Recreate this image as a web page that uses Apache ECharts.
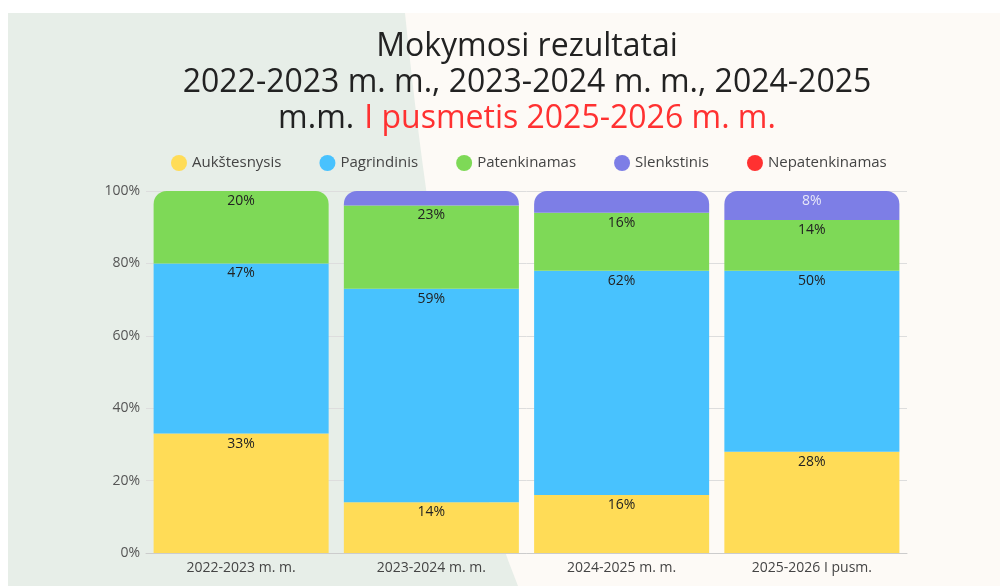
<!DOCTYPE html>
<html>
<head>
<meta charset="utf-8">
<script src="https://cdn.jsdelivr.net/npm/echarts@6/dist/echarts.min.js"></script>
<style>
html, body { margin: 0; padding: 0; background: #fff; }
#chart { width: 1000px; height: 586px; }
</style>
</head>
<body>
<div id="chart"></div>
<script>
var categories = ['2022-2023 m. m.', '2023-2024 m. m.', '2024-2025 m. m.', '2025-2026 I pusm.'];
var seriesNames = ['Aukštesnysis', 'Pagrindinis', 'Patenkinamas', 'Slenkstinis', 'Nepatenkinamas'];
var aukstesnysis = [33, 14, 16, 28];
var pagrindinis = [47, 59, 62, 50];
var patenkinamas = [20, 23, 16, 14];
var slenkstinis = [0, 4, 6, 8];
var nepatenkinamas = [0, 0, 0, 0];
var colors = ['#ffdc57', '#48c2fe', '#7ed957', '#7d7ee6', '#ff3131'];

var myChart = echarts.init(document.getElementById('chart'));
var allData = [aukstesnysis, pagrindinis, patenkinamas, slenkstinis, nepatenkinamas];

// which series is on top of each bar (for the rounded corners)
var topIdx = categories.map(function (c, j) {
    var t = 0;
    allData.forEach(function (d, i) { if (d[j] > 0) t = i; });
    return t;
});

var font = '"Open Sans", Lato, sans-serif';

// curved edge of the green background shape
var bgPoints = [[8, 13]];
for (var k = 0; k <= 20; k++) {
    var t = k / 20, u = 1 - t;
    bgPoints.push([
        u * u * u * 405 + 3 * u * u * t * 418 + 3 * u * t * t * 450 + t * t * t * 518,
        u * u * u * 13 + 3 * u * u * t * 140 + 3 * u * t * t * 420 + t * t * t * 586
    ]);
}
bgPoints.push([8, 586]);

var series = allData.map(function (d, i) {
    return {
        name: seriesNames[i],
        type: 'bar',
        stack: 'total',
        barCategoryGap: '8%',
        data: d.map(function (v, j) {
            return {
                value: v,
                itemStyle: { borderRadius: topIdx[j] === i ? [13, 13, 0, 0] : 0 },
                label: { show: v >= 8 }
            };
        }),
        label: {
            position: 'insideTop',
            distance: 3,
            formatter: '{c}%',
            fontSize: 14,
            fontFamily: font,
            color: i === 3 ? '#e8e8f8' : '#222'
        }
    };
});

option = {
    color: colors,
    animation: false,
    graphic: [
        {
            type: 'rect',
            silent: true,
            z: -10,
            shape: { x: 8, y: 13, width: 992, height: 573 },
            style: { fill: '#fdfaf6' }
        },
        {
            type: 'polygon',
            silent: true,
            z: -9,
            shape: { points: bgPoints },
            style: { fill: '#e7eee8' }
        }
    ],
    title: {
        text: '{b|Mokymosi rezultatai}\n{b|2022-2023 m. m., 2023-2024 m. m., 2024-2025}\n{b|m.m.}  {r|I pusmetis 2025-2026 m. m.}',
        left: 522,
        top: 24,
        textAlign: 'center',
        textStyle: {
            rich: {
                b: { fontSize: 32, fontWeight: 'normal', fontFamily: font, color: '#222', lineHeight: 36 },
                r: { fontSize: 32, fontWeight: 'normal', fontFamily: font, color: '#ff3131', lineHeight: 36 }
            }
        }
    },
    legend: {
        data: seriesNames,
        top: 150,
        left: 166,
        icon: 'circle',
        itemWidth: 16,
        itemHeight: 16,
        itemGap: 38,
        textStyle: { fontSize: 15, fontFamily: font, color: '#444' }
    },
    grid: { left: 146, right: 93, top: 191, bottom: 33 },
    xAxis: [
        {
            type: 'category',
            data: categories,
            axisTick: { show: false },
            axisLine: { lineStyle: { color: '#cccccc' } },
            axisLabel: { fontSize: 14, fontFamily: font, color: '#444', margin: 8 }
        }
    ],
    yAxis: [
        {
            type: 'value',
            min: 0,
            max: 100,
            interval: 20,
            axisLabel: { formatter: '{value}%', fontSize: 14, fontFamily: font, color: '#555', margin: 6 },
            splitLine: { lineStyle: { color: '#dddddd' } }
        }
    ],
    series: series
};

myChart.setOption(option);
</script>
</body>
</html>
